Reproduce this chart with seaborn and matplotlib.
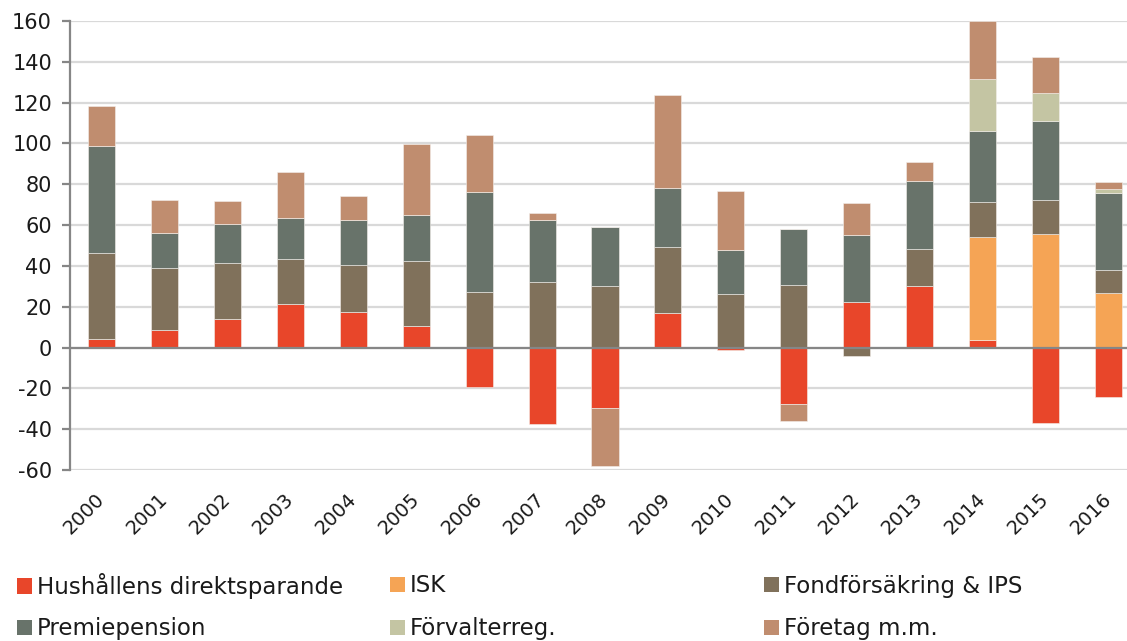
import matplotlib
matplotlib.use("Agg")

import matplotlib.pyplot as plt
import numpy as np
import seaborn as sns
from matplotlib.patches import Patch

sns.set_theme(style="white")
plt.rcParams["font.family"] = ["DejaVu Sans"]
plt.rcParams["axes.unicode_minus"] = False

years = [str(y) for y in range(2000, 2017)]

series_names = [
    "Hushållens direktsparande",
    "ISK",
    "Fondförsäkring & IPS",
    "Premiepension",
    "Förvalterreg.",
    "Företag m.m.",
]
series_colors = ["#E8462A", "#F5A455", "#80715B", "#68736A", "#C4C5A3", "#C08D6F"]

hushall = [4.2, 8.6, 13.9, 21.5, 17.4, 10.6, -19.5, -37.4, -29.7, 16.8, -1.2, -27.6, 22.3, 30.3, 3.7, -36.8, -24.4]
isk = [0, 0, 0, 0, 0, 0, 0, 0, 0, 0, 0, 0, 0, 0, 50.6, 55.7, 26.9]
fond = [42.3, 30.2, 27.4, 21.9, 23.1, 31.8, 27.4, 32.0, 30.3, 32.5, 26.1, 30.7, -4.1, 18.0, 17.2, 16.6, 11.1]
premie = [52.4, 17.5, 19.4, 19.9, 22.0, 22.6, 49.0, 30.4, 28.6, 29.0, 21.9, 27.6, 32.7, 33.3, 34.8, 38.6, 37.7]
forvalt = [0, 0, 0, 0, 0, 0, 0, 0, 0, 0, 0, 0, 0, 0, 25.1, 13.7, 2.0]
foretag = [19.6, 15.9, 11.0, 22.6, 11.8, 34.6, 27.8, 3.4, -28.2, 45.6, 28.9, -8.5, 15.7, 9.2, 28.6, 17.8, 3.3]

series_values = [hushall, isk, fond, premie, forvalt, foretag]

fig = plt.figure(figsize=(11.27, 6.41), dpi=100)
ax = fig.add_axes([70 / 1127, (641 - 470) / 641, (1140 - 70) / 1127, 449 / 641])

# gridlines under the bars
for v in range(-60, 161, 20):
    ax.axhline(v, color="#D9D9D9", linewidth=1.6, zorder=0)

# positives stack upwards, negatives downwards
pos_cum = np.zeros(len(years))
neg_cum = np.zeros(len(years))
for name, vals, color in zip(series_names, series_values, series_colors):
    vals = np.array(vals, dtype=float)
    bottoms = np.where(vals >= 0, pos_cum, neg_cum)
    sns.barplot(x=years, y=vals, bottom=bottoms, color=color, saturation=1, width=0.43,
                edgecolor="#f4f0ec", linewidth=0.4, ax=ax, zorder=2)
    pos_cum += np.clip(vals, 0, None)
    neg_cum += np.clip(vals, None, 0)

ax.axhline(0, color="#868686", linewidth=1.6, zorder=3)

ax.set_xlim(-0.5, 16.5)
ax.set_ylim(-60, 160)
ax.set_yticks(range(-60, 161, 20))
ax.set_xlabel("")
ax.set_ylabel("")

for side in ["top", "right", "bottom"]:
    ax.spines[side].set_visible(False)
ax.spines["left"].set_color("#868686")
ax.spines["left"].set_linewidth(1.6)
ax.spines["left"].set_zorder(4)

ax.tick_params(axis="y", left=True, length=6, width=1.6, color="#868686",
               labelsize=15, labelcolor="#1a1a1a", pad=7)
ax.tick_params(axis="x", bottom=False, labelsize=14, labelcolor="#1a1a1a", pad=13)
plt.setp(ax.get_xticklabels(), rotation=45, ha="right", va="center", rotation_mode="anchor")

# legend: three equal-width columns, two rows; one entry per legend so rows line up
col_x = [17 / 1127, 390 / 1127, 764 / 1127]
row_y = [(641 - 586) / 641, (641 - 629) / 641]
for i, (name, color) in enumerate(zip(series_names, series_colors)):
    fig.legend([Patch(facecolor=color, edgecolor="none")], [name], loc="center left",
               bbox_to_anchor=(col_x[i % 3], row_y[i // 3]),
               frameon=False, fontsize=16.5, handlelength=0.66, handleheight=0.66,
               handletextpad=0.22, borderaxespad=0, borderpad=0, labelcolor="#1a1a1a")

fig.savefig("out.png", dpi=100)
plt.close(fig)
